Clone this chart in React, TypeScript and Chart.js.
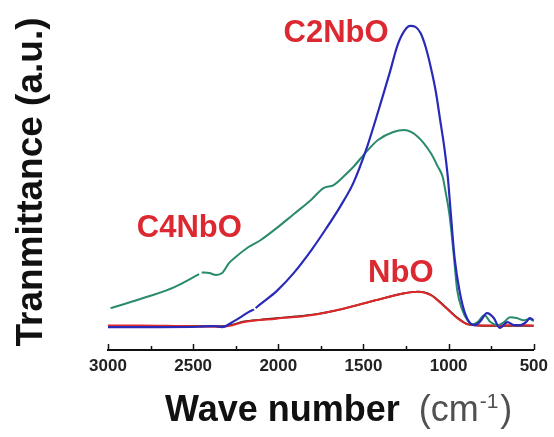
import React, { useEffect, useRef } from 'react';
import { Chart, registerables } from 'chart.js';

Chart.register(...registerables);

// ---- data ----
const xTickValues = [3000, 2500, 2000, 1500, 1000, 500];
const xTickLabels = ['3000', '2500', '2000', '1500', '1000', '500'];
const xMinorTickValues = [2750, 2250, 1750, 1250, 750];

const seriesNames = ['C2NbO', 'C4NbO', 'NbO'];
const yTitle = 'Tranmittance (a.u.)';
const xTitleMain = 'Wave number';
const xTitleUnit = '(cm';
const xTitleSup = '-1';
const xTitleEnd = ')';

const c2nboWave = [3000, 2700, 2465, 2375, 2330, 2260, 2175, 2143, 2138, 2133, 2105, 2010, 1910, 1810, 1720, 1635, 1560, 1485, 1385, 1345, 1300, 1260, 1225, 1195, 1165, 1135, 1105, 1075, 1050, 1025, 1005, 990, 965, 935, 900, 850, 815, 775, 735, 700, 655, 615, 580, 540, 525, 500];
const c2nboValue = [-0.3, -0.3, -0.2, 0, -0.3, 1.6, 4.5, 5.4, null, 5.8, 7.1, 11.3, 17.1, 24.2, 31.4, 38.7, 46.1, 56.8, 74.5, 81.9, 90.6, 95.2, 96.8, 96.5, 94.5, 90.0, 83.5, 75.5, 66.5, 57.4, 48.1, 38.1, 21.9, 11.0, 3.5, 0.3, 1.5, 4.2, 2.6, -0.6, 1.3, 0.3, 0.3, 1.6, 2.6, 1.9];

const c4nboWave = [2985, 2755, 2610, 2465, 2457, 2450, 2405, 2365, 2330, 2290, 2250, 2175, 2105, 2010, 1910, 1810, 1735, 1675, 1620, 1560, 1490, 1415, 1325, 1260, 1180, 1105, 1065, 1035, 1020, 995, 970, 950, 920, 890, 860, 830, 790, 755, 715, 675, 640, 600, 560, 525, 500];
const c4nboValue = [5.8, 9.7, 12.6, 16.8, null, 17.3, 17.1, 16.5, 17.1, 20.3, 22.3, 25.5, 27.7, 31.6, 36.1, 40.6, 44.5, 45.5, 48.1, 51.3, 55.8, 60.0, 62.6, 63.2, 61.0, 55.8, 51.6, 48.1, 43.9, 35.8, 22.9, 11.6, 5.2, 1.9, 0.6, 1.3, 3.5, 1.3, 0.3, 1.3, 2.9, 2.6, 1.9, 2.3, 1.6];

const nboWave = [3000, 2815, 2580, 2345, 2270, 2200, 2010, 1810, 1620, 1425, 1325, 1260, 1180, 1105, 1025, 950, 890, 830, 715, 600, 500];
const nboValue = [0.2, 0.2, 0, -0.2, 0.3, 1.3, 2.4, 3.5, 5.6, 8.4, 9.8, 10.6, 11.1, 10.0, 6.3, 2.6, 0.6, 0.3, 0.2, 0.3, 0.2];

const darkWave = [3000, 2580, 2330, 2270, 2200, 2100, 2010, 1900, 1810, 1620, 1425, 1260, 1180, 1105, 1025, 950, 890, 830, 700, 500];
const darkValue = [0, 0, 0, 0.5, 1.5, 2.1, 2.6, 3.1, 3.6, 5.6, 8.4, 10.6, 11.1, 10.1, 6.5, 2.8, 0.6, 0.2, 0.1, 0.1];

const toPoints = (w: number[], v: (number | null)[]) => w.map((x, i) => ({ x, y: v[i] }));

const FONT = '"Liberation Sans", Arial, Helvetica, sans-serif';

const overlayPlugin = {
  id: 'overlay',
  afterDraw(chart: any) {
    const ctx = chart.ctx as CanvasRenderingContext2D;
    const xs = chart.scales.x;
    const ys = chart.scales.y;
    const bottom = chart.chartArea.bottom;
    ctx.save();
    // inward tick marks
    ctx.strokeStyle = '#111';
    ctx.lineWidth = 1.5;
    const drawTick = (v: number, len: number) => {
      const px = Math.round(xs.getPixelForValue(v)) + 0.5;
      ctx.beginPath();
      ctx.moveTo(px, bottom);
      ctx.lineTo(px, bottom - len);
      ctx.stroke();
    };
    xTickValues.forEach((v) => drawTick(v, 6));
    xMinorTickValues.forEach((v) => drawTick(v, 4));

    // series labels
    ctx.fillStyle = '#dc2830';
    ctx.font = `bold 31px ${FONT}`;
    ctx.textAlign = 'left';
    ctx.textBaseline = 'alphabetic';
    ctx.fillText(seriesNames[0], xs.getPixelForValue(1969), ys.getPixelForValue(91.6));
    ctx.fillText(seriesNames[1], xs.getPixelForValue(2831), ys.getPixelForValue(28.7));
    ctx.fillText(seriesNames[2], xs.getPixelForValue(1473), ys.getPixelForValue(14.2));

    // y title
    ctx.save();
    ctx.translate(42, 182);
    ctx.rotate(-Math.PI / 2);
    ctx.fillStyle = '#111';
    ctx.font = `bold 37px ${FONT}`;
    ctx.textAlign = 'center';
    ctx.fillText(yTitle, 0, 0);
    ctx.restore();

    // x title
    const bx = 165;
    const by = 421;
    ctx.textAlign = 'left';
    ctx.fillStyle = '#111';
    ctx.font = `bold 36px ${FONT}`;
    ctx.fillText(xTitleMain, bx, by);
    let cx = bx + ctx.measureText(xTitleMain).width + 19;
    ctx.fillStyle = '#505050';
    ctx.font = `36px ${FONT}`;
    ctx.fillText(xTitleUnit, cx, by);
    cx += ctx.measureText(xTitleUnit).width + 1;
    ctx.font = `21px ${FONT}`;
    ctx.fillText(xTitleSup, cx, by - 13);
    cx += ctx.measureText(xTitleSup).width + 2;
    ctx.font = `36px ${FONT}`;
    ctx.fillText(xTitleEnd, cx, by);
    ctx.restore();
  },
};

export default function App() {
  const ref = useRef<HTMLCanvasElement | null>(null);
  useEffect(() => {
    if (!ref.current) return;
    const line = { fill: false, pointRadius: 0, borderWidth: 2, cubicInterpolationMode: 'monotone' as const, spanGaps: false };
    const chart = new Chart(ref.current, {
      type: 'line',
      data: {
        datasets: [
          { ...line, label: seriesNames[0], data: toPoints(c2nboWave, c2nboValue), borderColor: '#2a2ab8', borderWidth: 2.2 },
          { ...line, label: seriesNames[1], data: toPoints(c4nboWave, c4nboValue), borderColor: '#2b8a6e' },
          { ...line, label: seriesNames[2], data: toPoints(nboWave, nboValue), borderColor: '#e02828' },
          { ...line, label: 'dark', data: toPoints(darkWave, darkValue), borderColor: '#3a1a1a', borderWidth: 1.8 },
        ],
      },
      options: {
        responsive: false,
        animation: false,
        devicePixelRatio: 1,
        layout: { padding: { left: 108, right: 17, top: 16, bottom: 0 } },
        plugins: { legend: { display: false }, tooltip: { enabled: false } },
        scales: {
          x: {
            type: 'linear',
            reverse: true,
            min: 500,
            max: 3000,
            afterBuildTicks: (scale: any) => {
              scale.ticks = xTickValues.map((value) => ({ value }));
            },
            afterFit: (scale: any) => {
              scale.height = 87;
            },
            grid: { display: false, drawTicks: false },
            border: { display: true, color: '#111', width: 2 },
            ticks: {
              autoSkip: false,
              maxRotation: 0,
              padding: 6,
              color: '#222',
              font: { family: FONT, size: 17, weight: 'bold' },
              callback: (_v: any, i: number) => xTickLabels[i],
            },
          },
          y: {
            display: false,
            min: -7.7,
            max: 100,
          },
        },
      },
      plugins: [overlayPlugin],
    });
    return () => chart.destroy();
  }, []);
  return (
    <div style={{ position: 'absolute', left: 0, top: 0, width: 554, height: 437, background: '#fff' }}>
      <canvas ref={ref} width={554} height={437} style={{ width: 554, height: 437, display: 'block' }} />
    </div>
  );
}
